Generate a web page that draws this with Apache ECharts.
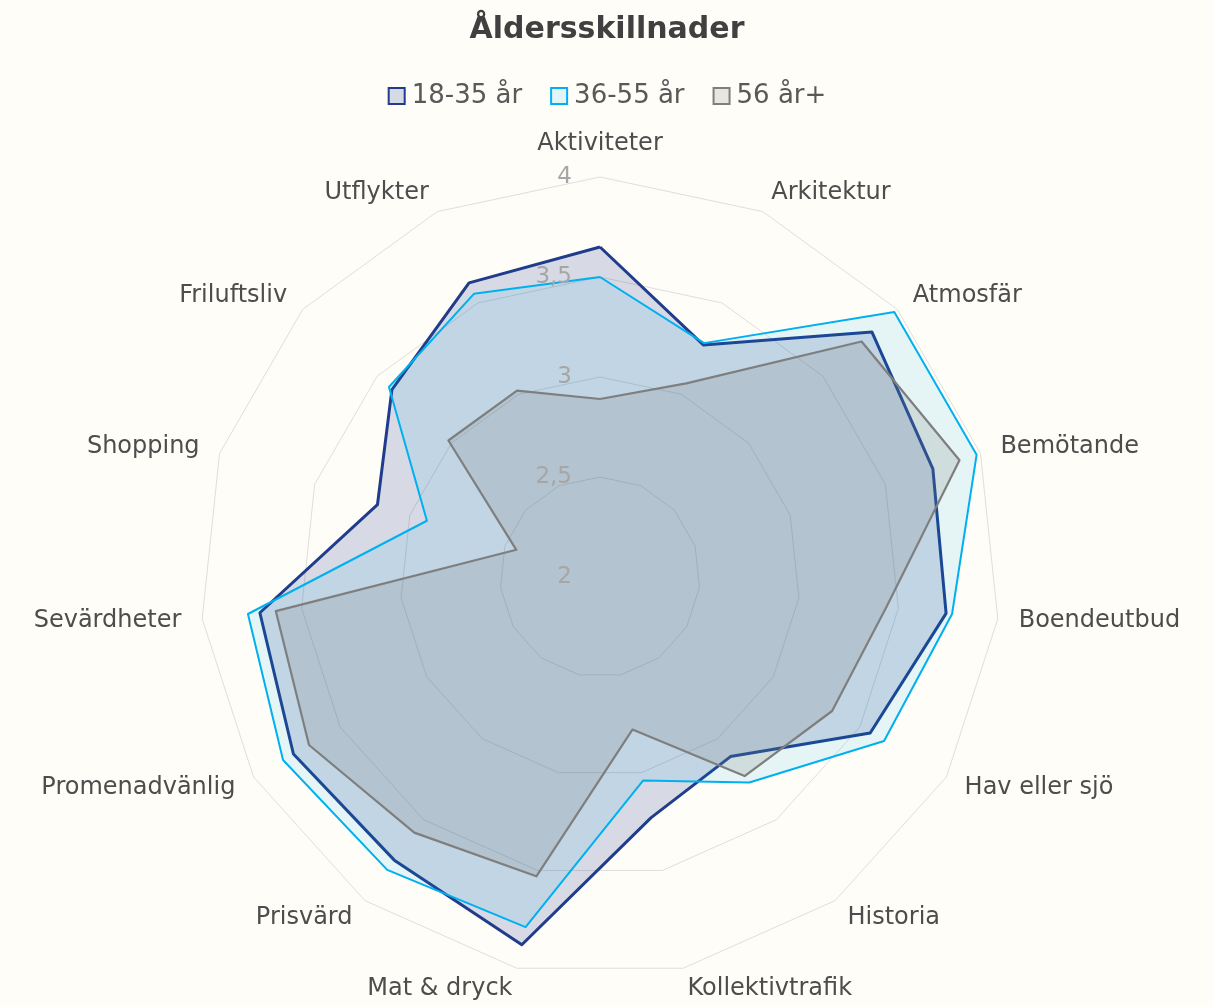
<!DOCTYPE html>
<html>
<head>
<meta charset="utf-8">
<script src="https://cdn.jsdelivr.net/npm/echarts@6/dist/echarts.min.js"></script>
<style>
  html, body { margin: 0; padding: 0; background: #FFFDF8; }
  #chart { width: 1214px; height: 1007px; }
</style>
</head>
<body>
<div id="chart"></div>
<script>
// Attributes rated on the radar, clockwise from the top
const categories = [
  'Aktiviteter', 'Arkitektur', 'Atmosfär', 'Bemötande', 'Boendeutbud',
  'Hav eller sjö', 'Historia', 'Kollektivtrafik', 'Mat & dryck', 'Prisvärd',
  'Promenadvänlig', 'Sevärdheter', 'Shopping', 'Friluftsliv', 'Utflykter'
];

// Average scores per age group
const group1835 = [3.65, 3.27, 3.83, 3.75, 3.74, 3.56, 3.11, 3.23, 3.88, 3.75, 3.77, 3.71, 3.17, 3.40, 3.61];
const group3655 = [3.50, 3.28, 3.98, 3.98, 3.77, 3.64, 3.27, 3.04, 3.79, 3.81, 3.83, 3.77, 2.91, 3.42, 3.55];
const group56 = [2.89, 3.06, 3.76, 3.89, 3.44, 3.34, 3.23, 2.78, 3.53, 3.58, 3.68, 3.63, 2.44, 3.02, 3.02];

const seriesNames = ['18-35 år', '36-55 år', '56 år+'];

// Scale of the value rings
const scaleMin = 2;
const scaleMax = 4;
const scaleStep = 0.5;

const FONT = '"DejaVu Sans", "Open Sans", sans-serif';
const lineColors = ['#1F3D8C', '#00B0F0', '#7F7F7F'];
const fillColors = ['rgba(31,61,140,0.18)', 'rgba(0,176,240,0.10)', 'rgba(127,127,127,0.20)'];
const legendFill = ['#D6DAE6', '#E3F4F8', '#E6E6E3'];
const lineWidths = [3, 2, 2.2];

const values = [group1835, group3655, group56];
const center = [600, 577];
const radius = 400;

// ECharts lays radar indicators out counter-clockwise; walk the list
// backwards after the first entry so the axes run clockwise.
const order = [0];
for (let i = categories.length - 1; i >= 1; i--) order.push(i);
const reorder = arr => order.map(i => arr[i]);

const chart = echarts.init(document.getElementById('chart'));

chart.setOption({
  backgroundColor: '#FFFDF8',
  title: {
    text: 'Åldersskillnader',
    left: 'center',
    top: 10,
    textStyle: { fontFamily: FONT, fontSize: 30, fontWeight: 'bold', color: '#404040' }
  },
  legend: {
    top: 78,
    left: 'center',
    itemWidth: 16,
    itemHeight: 16,
    itemGap: 28,
    textStyle: { fontFamily: FONT, fontSize: 26, color: '#595959', padding: [0, 0, 0, 2] },
    data: seriesNames.map((n, i) => ({
      name: n,
      icon: 'rect',
      itemStyle: { color: legendFill[i], borderColor: lineColors[i], borderWidth: 2 }
    }))
  },
  radar: {
    center: center,
    radius: radius,
    startAngle: 90,
    shape: 'polygon',
    splitNumber: (scaleMax - scaleMin) / scaleStep,
    nameGap: 21,
    axisName: { fontFamily: FONT, fontSize: 24, color: '#4D4D4D' },
    axisLine: { show: false },
    axisTick: { show: false },
    axisLabel: { show: false },
    splitArea: { show: false },
    splitLine: { lineStyle: { color: '#E0DFDB', width: 1 } },
    indicator: reorder(categories).map(c => ({ name: c, min: scaleMin, max: scaleMax }))
  },
  // Polar overlay that only carries the value labels on the top spoke
  polar: { center: center, radius: radius },
  angleAxis: { show: false, startAngle: 90, min: 0, max: 360 },
  radiusAxis: {
    min: scaleMin,
    max: scaleMax,
    interval: scaleStep,
    z: 10,
    axisLine: { show: false },
    axisTick: { show: false },
    splitLine: { show: false },
    axisLabel: {
      show: true,
      margin: 28,
      fontFamily: FONT,
      fontSize: 23,
      color: '#A6A6A6',
      formatter: v => String(v).replace('.', ',')
    }
  },
  series: [{
    type: 'radar',
    symbol: 'none',
    data: values.map((vals, i) => ({
      name: seriesNames[i],
      value: reorder(vals),
      lineStyle: { color: lineColors[i], width: lineWidths[i] },
      itemStyle: { color: lineColors[i] },
      areaStyle: { color: fillColors[i], opacity: 1 }
    }))
  }]
});
</script>
</body>
</html>
